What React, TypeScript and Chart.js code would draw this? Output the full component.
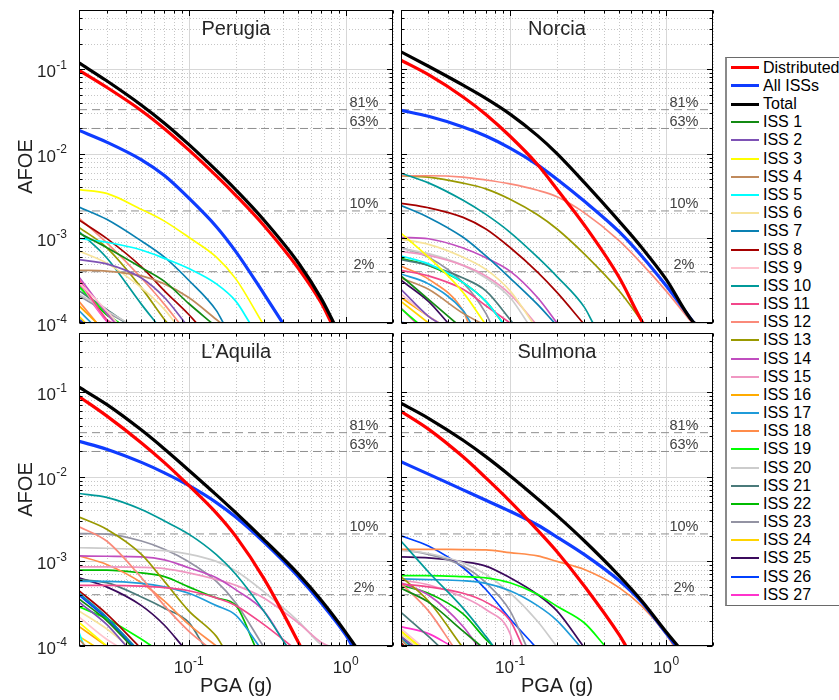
import React, { useEffect, useRef } from 'react';
import { Chart, registerables } from 'chart.js';

Chart.register(...registerables);

// ---------------- data ----------------
const PGA_G = [0.02, 0.03, 0.05, 0.07, 0.1, 0.15, 0.2, 0.3, 0.5, 0.7, 1, 1.5];
const X_RANGE = [0.02, 2];
const Y_RANGE = [1e-4, 0.5];

const SERIES = [
  'Distributed', 'All ISSs', 'Total',
  'ISS 1', 'ISS 2', 'ISS 3', 'ISS 4', 'ISS 5', 'ISS 6', 'ISS 7', 'ISS 8', 'ISS 9',
  'ISS 10', 'ISS 11', 'ISS 12', 'ISS 13', 'ISS 14', 'ISS 15', 'ISS 16', 'ISS 17',
  'ISS 18', 'ISS 19', 'ISS 20', 'ISS 21', 'ISS 22', 'ISS 23', 'ISS 24', 'ISS 25',
  'ISS 26', 'ISS 27',
];

const COLORS = [
  '#ff0000', '#0f3cff', '#000000',
  '#138a13', '#7e52b5', '#ffff00', '#c08a5c', '#00ffff', '#f7e39a', '#0a80b2',
  '#a50000', '#ffc3ce', '#009999', '#f2478a', '#fa8a7a', '#999900', '#c04dbf',
  '#f097c2', '#ffab00', '#1f9bd9', '#ff8c4a', '#00ff00', '#cccccc', '#4a7a7a',
  '#00bb00', '#9393a3', '#ffd400', '#3b0a5c', '#0040ff', '#ff33cc',
];

const PROB_LABELS = ['81%', '63%', '10%', '2%'];
const PROB_AFOE = [0.0332, 0.0199, 0.00211, 0.000404];

const PANEL_TITLES = ['Perugia', 'Norcia', 'L\u2019Aquila', 'Sulmona'];

// AFOE values on the PGA_G grid (while the curve is inside the plot), and PGA where it reaches 1e-4
const PERUGIA_AFOE = [
  [0.097, 0.0611, 0.0323, 0.0198, 0.0111, 0.00547, 0.00321, 0.00143, 4.4e-4, 1.71e-4],
  [0.0189, 0.01374, 0.00848, 0.00553, 0.003, 0.001375, 6.93e-4, 2.24e-4],
  [0.1186, 0.0729, 0.0375, 0.023, 0.0129, 0.00635, 0.00373, 0.00166, 5.12e-4, 1.93e-4],
  [0.00116, 7.8e-4, 4.5e-4, 3.1e-4, 1.7e-4],
  [5.6e-4, 5.0e-4, 3.4e-4, 2.0e-4],
  [0.00377, 0.0034, 0.0022, 0.0016, 0.00103, 6.0e-4, 3.3e-4],
  [4.2e-4, 4.1e-4, 3.6e-4, 2.9e-4, 2.0e-4, 1.1e-4],
  [1.0e-3, 9.0e-4, 7.3e-4, 5.8e-4, 4.4e-4, 2.9e-4, 1.8e-4],
  [7.1e-4, 5.1e-4, 2.6e-4, 1.45e-4],
  [0.00235, 0.00168, 9.3e-4, 6.0e-4, 3.2e-4, 1.4e-4],
  [0.00165, 0.001, 4.6e-4, 2.4e-4, 1.26e-4],
  [3.0e-4, 1.4e-4],
  [0.0012, 5.9e-4, 1.66e-4],
  [3.3e-4, 1.1e-4],
  [0.00174, 8.9e-4, 3.4e-4, 1.66e-4],
  [0.00135, 7.8e-4, 2.6e-4, 1.1e-4],
  [3.5e-4, 1.3e-4],
  [3.1e-4, 1.1e-4],
  [1.6e-4],
  [1.4e-4],
  [1.8e-4],
  [2.7e-4, 1.3e-4],
  [2.2e-4, 1.4e-4],
  [2.4e-4, 1.45e-4],
  [2.7e-4, 1.25e-4],
  [2.1e-4, 1.35e-4],
  [1.2e-4],
  [1.05e-4],
  [1.1e-4],
  [2.9e-4, 1.05e-4],
];
const PERUGIA_END = [0.81, 0.397, 0.84, 0.14, 0.095, 0.295, 0.16, 0.245, 0.082, 0.166, 0.112, 0.035, 0.062, 0.032, 0.087, 0.073, 0.034, 0.033, 0.026, 0.024, 0.026, 0.036, 0.041, 0.04, 0.036, 0.04, 0.022, 0.021, 0.022, 0.031];

const NORCIA_AFOE = [
  [0.1276, 0.0859, 0.0469, 0.0291, 0.0161, 0.00746, 0.0038, 0.00143, 3.47e-4, 1.05e-4],
  [0.0326, 0.0277, 0.0207, 0.0162, 0.01166, 0.0074, 0.005, 0.00274, 0.0012, 6.16e-4, 2.77e-4],
  [0.1603, 0.1081, 0.0646, 0.0452, 0.02944, 0.01637, 0.01005, 0.00456, 0.0016, 7.76e-4, 3.3e-4, 1.02e-4],
  [3.6e-4, 1.9e-4],
  [2.5e-4, 1.2e-4],
  [1.15e-3, 6.0e-4, 2.3e-4],
  [3.4e-4, 2.5e-4, 1.3e-4],
  [6.2e-4, 5.0e-4, 3.0e-4, 1.8e-4],
  [9.8e-4, 8.5e-4, 6.0e-4, 4.3e-4, 2.4e-4],
  [0.00245, 0.00177, 0.00103, 6.2e-4, 3.4e-4, 1.66e-4],
  [0.0026, 0.0023, 0.00177, 0.00129, 7.8e-4, 4.0e-4, 2.3e-4],
  [2.2e-4, 1.2e-4],
  [0.00589, 0.00453, 0.00282, 0.00192, 0.00118, 6.0e-4, 3.54e-4, 1.53e-4],
  [4.2e-4, 3.6e-4, 2.5e-4, 1.6e-4],
  [0.0055, 0.0055, 0.0053, 0.0049, 0.0044, 0.0037, 0.0031, 0.002, 9.4e-4, 5.0e-4, 2.4e-4],
  [0.0055, 0.0053, 0.0045, 0.00385, 0.0029, 0.0019, 0.00129, 6.5e-4, 2.4e-4, 1.05e-4],
  [1.03e-3, 9.9e-4, 7.7e-4, 5.9e-4, 4.1e-4, 2.0e-4],
  [7.0e-4, 6.3e-4, 4.8e-4, 3.6e-4, 2.2e-4],
  [2.0e-4, 1.2e-4],
  [3.8e-4, 2.9e-4, 1.4e-4],
  [4.7e-4, 3.3e-4, 1.4e-4],
  [1.48e-4],
  [7.6e-4, 6.6e-4, 4.8e-4, 3.4e-4, 2.0e-4],
  [5.6e-4, 4.8e-4, 3.4e-4, 2.4e-4, 1.1e-4],
  [5.8e-4, 4.8e-4, 3.0e-4, 1.8e-4],
  [7.8e-4, 6.0e-4, 3.0e-4, 1.3e-4],
  [1.8e-4],
  [3.2e-4, 1.8e-4],
  [1.02e-4],
  [1.5e-4],
];
const NORCIA_END = [0.712, 1.51, 1.53, 0.045, 0.035, 0.0687, 0.065, 0.09, 0.14, 0.193, 0.294, 0.035, 0.34, 0.10, 1.47, 0.714, 0.2, 0.145, 0.035, 0.056, 0.054, 0.0256, 0.13, 0.104, 0.09, 0.075, 0.03, 0.04, 0.021, 0.025];

const LAQUILA_AFOE = [
  [0.0887, 0.0524, 0.0251, 0.0147, 0.00789, 0.00372, 0.00196, 6.33e-4, 1.1e-4],
  [0.0262, 0.0212, 0.0148, 0.01113, 0.00789, 0.00495, 0.00332, 0.0017, 6.57e-4, 3.2e-4, 1.35e-4],
  [0.1145, 0.0716, 0.0356, 0.0213, 0.01196, 0.00611, 0.00374, 0.00182, 7.07e-4, 3.44e-4, 1.45e-4],
  [3.6e-4, 2.0e-4],
  [3.3e-4, 1.8e-4],
  [1.9e-4],
  [1.2e-4],
  [1.45e-4],
  [2.6e-4, 1.6e-4],
  [4.2e-4, 2.2e-4],
  [4.5e-4, 2.4e-4],
  [2.2e-4, 1.2e-4],
  [0.00634, 0.0057, 0.0041, 0.003, 0.0021, 0.0012, 7.0e-4, 2.6e-4],
  [5.2e-4, 5.2e-4, 5.1e-4, 4.9e-4, 4.5e-4, 3.7e-4, 3.0e-4, 1.8e-4],
  [0.00257, 0.00174, 6.4e-4, 3.0e-4, 1.5e-4],
  [0.00335, 0.0024, 0.00121, 5.8e-4, 2.6e-4, 1.3e-4],
  [1.16e-3, 1.15e-3, 1.13e-3, 1.04e-3, 8.4e-4, 6.4e-4, 4.6e-4, 2.6e-4],
  [8.6e-4, 8.6e-4, 8.5e-4, 8.2e-4, 7.3e-4, 6.1e-4, 5.2e-4, 3.7e-4, 1.87e-4, 1.1e-4],
  [1.7e-4],
  [5.8e-4, 5.8e-4, 5.5e-4, 5.0e-4, 4.2e-4, 3.0e-4, 2.3e-4],
  [0.00116, 9.2e-4, 5.6e-4, 3.4e-4, 1.8e-4],
  [2.9e-4, 2.1e-4, 1.2e-4],
  [1.45e-3, 1.43e-3, 1.38e-3, 1.34e-3, 1.22e-3, 1.0e-3, 7.7e-4, 4.4e-4, 1.96e-4, 1.03e-4],
  [6.1e-4, 5.6e-4, 3.8e-4, 2.8e-4, 1.9e-4],
  [7.9e-4, 7.9e-4, 7.3e-4, 6.6e-4, 5.0e-4, 3.7e-4, 3.0e-4],
  [0.00213, 0.0021, 0.00174, 0.00139, 9.9e-4, 5.8e-4, 3.2e-4],
  [1.3e-4],
  [6.4e-4, 5.0e-4, 3.0e-4, 1.76e-4],
  [4.0e-4, 2.1e-4],
  [1.05e-4],
];
const LAQUILA_END = [0.513, 1.1, 1.15, 0.043, 0.04, 0.03, 0.022, 0.0215, 0.041, 0.045, 0.048, 0.035, 0.42, 0.45, 0.13, 0.164, 0.42, 0.78, 0.03, 0.28, 0.15, 0.058, 0.72, 0.125, 0.264, 0.298, 0.025, 0.091, 0.044, 0.0205];

const SULMONA_AFOE = [
  [0.0594, 0.0366, 0.0172, 0.0097, 0.00513, 0.00234, 0.0013, 5.08e-4, 1.36e-4],
  [0.01503, 0.01074, 0.007, 0.00528, 0.00391, 0.00269, 0.00194, 0.0012, 5.93e-4, 3.28e-4, 1.42e-4],
  [0.074, 0.0491, 0.027, 0.0173, 0.0103, 0.0055, 0.00347, 0.00174, 6.76e-4, 3.4e-4, 1.47e-4],
  [4.8e-4, 3.3e-4, 1.5e-4],
  [1.3e-4],
  [1.5e-4],
  [1.2e-4],
  [1.2e-4],
  [1.4e-4],
  [1.25e-4],
  [1.1e-4],
  [1.6e-4],
  [0.00174, 7.5e-4, 2.8e-4, 1.3e-4],
  [5.4e-4, 5.0e-4, 4.2e-4, 3.3e-4, 2.0e-4],
  [5.5e-4, 2.6e-4],
  [6.6e-4, 3.4e-4],
  [5.6e-4, 4.0e-4, 1.7e-4],
  [6.0e-4, 5.3e-4, 3.8e-4, 2.7e-4, 1.4e-4],
  [1.3e-4],
  [6.2e-4, 6.1e-4, 5.9e-4, 5.5e-4, 4.5e-4, 3.0e-4, 2.0e-4],
  [0.00139, 0.00139, 0.00138, 0.00137, 0.00127, 0.00116, 0.001, 8.0e-4, 4.9e-4, 2.95e-4, 1.38e-4],
  [6.8e-4, 6.8e-4, 6.6e-4, 6.4e-4, 5.6e-4, 4.1e-4, 2.95e-4, 1.87e-4],
  [0.00135, 0.00124, 9.6e-4, 7.0e-4, 4.25e-4, 1.96e-4],
  [2.5e-4, 1.3e-4],
  [5.2e-4, 4.2e-4, 2.4e-4, 1.2e-4],
  [0.00139, 0.00121, 8.8e-4, 5.6e-4, 2.6e-4],
  [1.5e-4],
  [0.00113, 0.0011, 9.9e-4, 8.8e-4, 6.4e-4, 4.06e-4, 2.6e-4],
  [0.002, 0.00152, 8.4e-4, 4.65e-4, 2.1e-4],
  [1.7e-4, 1.4e-4],
];
const SULMONA_END = [0.553, 1.16, 1.19, 0.065, 0.024, 0.026, 0.022, 0.022, 0.025, 0.023, 0.021, 0.027, 0.078, 0.12, 0.043, 0.049, 0.062, 0.105, 0.023, 0.28, 1.12, 0.406, 0.198, 0.035, 0.078, 0.127, 0.026, 0.294, 0.144, 0.042];

// ---------------- rendering ----------------
const FONT = '"Liberation Sans", Arial, Helvetica, sans-serif';
const TEXT = '#1f1f1f';

function buildDatasets(rows: number[][], ends: number[]) {
  const ds: any[] = rows.map((row, i) => {
    const pts: { x: number; y: number }[] = [];
    row.forEach((v, j) => {
      if (PGA_G[j] < ends[i]) pts.push({ x: PGA_G[j], y: v });
    });
    pts.push({ x: ends[i], y: Y_RANGE[0] });
    const thick = i < 3;
    return {
      label: SERIES[i],
      data: pts,
      borderColor: COLORS[i],
      backgroundColor: COLORS[i],
      borderWidth: thick ? 3.2 : 1.7,
      pointRadius: 0,
      fill: false,
      cubicInterpolationMode: 'monotone',
      order: i === 2 ? 0 : i === 0 ? 1 : i === 1 ? 2 : 3 + i,
    };
  });
  PROB_AFOE.forEach((r, k) => {
    ds.push({
      label: PROB_LABELS[k],
      data: [{ x: X_RANGE[0], y: r }, { x: X_RANGE[1], y: r }],
      borderColor: '#8f8f8f',
      borderWidth: 1,
      borderDash: [8, 5],
      pointRadius: 0,
      fill: false,
      order: 1000,
    });
  });
  return ds;
}

function logTicks(min: number, max: number) {
  const out: { v: number; major: boolean; e: number }[] = [];
  const e0 = Math.floor(Math.log10(min));
  const e1 = Math.ceil(Math.log10(max));
  for (let e = e0; e <= e1; e++) {
    for (let m = 1; m <= 9; m++) {
      const v = m * Math.pow(10, e);
      if (v >= min * (1 - 1e-9) && v <= max * (1 + 1e-9)) out.push({ v, major: m === 1, e });
    }
  }
  return out;
}

function drawPow(ctx: CanvasRenderingContext2D, exp: number, x: number, yBase: number, align: string) {
  const base = '10';
  const sup = String(exp);
  ctx.font = `17px ${FONT}`;
  const wb = ctx.measureText(base).width;
  ctx.font = `12px ${FONT}`;
  const ws = ctx.measureText(sup).width;
  const total = wb + 0.5 + ws;
  const x0 = align === 'right' ? x - total : x - total / 2;
  ctx.textAlign = 'left';
  ctx.textBaseline = 'alphabetic';
  ctx.font = `17px ${FONT}`;
  ctx.fillText(base, x0, yBase);
  ctx.font = `12px ${FONT}`;
  ctx.fillText(sup, x0 + wb + 0.5, yBase - 8.5);
}

const matlabAxes = {
  id: 'matlabAxes',
  beforeDatasetsDraw(chart: any) {
    const { ctx, chartArea: a } = chart;
    const xs = chart.scales.x;
    const ys = chart.scales.y;
    const xt = logTicks(xs.min, xs.max);
    const yt = logTicks(ys.min, ys.max);
    ctx.save();
    ctx.lineWidth = 1;
    ctx.setLineDash([1, 2]);
    ctx.strokeStyle = '#c6c6c6';
    ctx.beginPath();
    xt.filter((t) => !t.major).forEach((t) => {
      const px = Math.round(xs.getPixelForValue(t.v)) + 0.5;
      ctx.moveTo(px, a.top);
      ctx.lineTo(px, a.bottom);
    });
    yt.filter((t) => !t.major).forEach((t) => {
      const py = Math.round(ys.getPixelForValue(t.v)) + 0.5;
      ctx.moveTo(a.left, py);
      ctx.lineTo(a.right, py);
    });
    ctx.stroke();
    ctx.setLineDash([]);
    ctx.strokeStyle = '#d7d7d7';
    ctx.beginPath();
    xt.filter((t) => t.major).forEach((t) => {
      const px = Math.round(xs.getPixelForValue(t.v)) + 0.5;
      ctx.moveTo(px, a.top);
      ctx.lineTo(px, a.bottom);
    });
    yt.filter((t) => t.major).forEach((t) => {
      const py = Math.round(ys.getPixelForValue(t.v)) + 0.5;
      ctx.moveTo(a.left, py);
      ctx.lineTo(a.right, py);
    });
    ctx.stroke();
    ctx.restore();
  },
  afterDatasetsDraw(chart: any, _args: any, opts: any) {
    const { ctx, chartArea: a } = chart;
    const xs = chart.scales.x;
    const ys = chart.scales.y;
    const xt = logTicks(xs.min, xs.max);
    const yt = logTicks(ys.min, ys.max);
    ctx.save();
    ctx.strokeStyle = '#000';
    ctx.lineWidth = 1;
    ctx.setLineDash([]);
    const L = Math.round(a.left) + 0.5;
    const R = Math.round(a.right) - 0.5;
    const T = Math.round(a.top) + 0.5;
    const B = Math.round(a.bottom) - 0.5;
    ctx.strokeRect(L, T, R - L, B - T);
    ctx.beginPath();
    xt.forEach((t) => {
      const px = Math.round(xs.getPixelForValue(t.v)) + 0.5;
      const len = t.major ? 5.5 : 3;
      ctx.moveTo(px, B);
      ctx.lineTo(px, B - len);
      ctx.moveTo(px, T);
      ctx.lineTo(px, T + len);
    });
    yt.forEach((t) => {
      const py = Math.round(ys.getPixelForValue(t.v)) + 0.5;
      const len = t.major ? 5.5 : 3;
      ctx.moveTo(L, py);
      ctx.lineTo(L + len, py);
      ctx.moveTo(R, py);
      ctx.lineTo(R - len, py);
    });
    ctx.stroke();

    ctx.fillStyle = TEXT;
    if (opts.showY) {
      yt.filter((t) => t.major).forEach((t) => {
        const py = ys.getPixelForValue(t.v);
        drawPow(ctx, t.e, a.left - 12, py + 8, 'right');
      });
      ctx.save();
      ctx.font = `20px ${FONT}`;
      ctx.textAlign = 'center';
      ctx.textBaseline = 'alphabetic';
      ctx.translate(31.7, (a.top + a.bottom) / 2);
      ctx.rotate(-Math.PI / 2);
      ctx.fillText('AFOE', 0, 0);
      ctx.restore();
    }
    if (opts.showX) {
      xt.filter((t) => t.major).forEach((t) => {
        const px = xs.getPixelForValue(t.v);
        drawPow(ctx, t.e, px, a.bottom + 27, 'center');
      });
      ctx.font = `20px ${FONT}`;
      ctx.textAlign = 'center';
      ctx.textBaseline = 'alphabetic';
      ctx.fillText('PGA (g)', (a.left + a.right) / 2, a.bottom + 45.5);
    }
    ctx.fillStyle = '#262626';
    ctx.font = `20px ${FONT}`;
    ctx.textAlign = 'center';
    ctx.textBaseline = 'alphabetic';
    ctx.fillText(opts.title, (a.left + a.right) / 2, a.top + 25);
    ctx.fillStyle = '#404040';
    ctx.font = `14.5px ${FONT}`;
    PROB_AFOE.forEach((r, k) => {
      const py = ys.getPixelForValue(r);
      ctx.fillText(PROB_LABELS[k], a.right - 29, py - 2.5);
    });
    ctx.restore();
  },
};

type PanelProps = {
  left: number; top: number; width: number; height: number;
  padding: { left: number; top: number; right: number; bottom: number };
  rows: number[][]; ends: number[]; title: string; showX: boolean; showY: boolean;
};

function Panel(p: PanelProps) {
  const ref = useRef<HTMLCanvasElement | null>(null);
  useEffect(() => {
    if (!ref.current) return;
    const chart = new Chart(ref.current, {
      type: 'line',
      data: { datasets: buildDatasets(p.rows, p.ends) },
      options: {
        animation: false,
        responsive: false,
        maintainAspectRatio: false,
        devicePixelRatio: 1,
        events: [],
        layout: { padding: p.padding },
        scales: {
          x: { type: 'logarithmic', min: X_RANGE[0], max: X_RANGE[1], display: false },
          y: { type: 'logarithmic', min: Y_RANGE[0], max: Y_RANGE[1], display: false },
        },
        plugins: {
          legend: { display: false },
          tooltip: { enabled: false },
          matlabAxes: { title: p.title, showX: p.showX, showY: p.showY },
        },
      } as any,
      plugins: [matlabAxes as any],
    });
    return () => chart.destroy();
  }, []);
  return (
    <canvas
      ref={ref}
      width={p.width}
      height={p.height}
      style={{ position: 'absolute', left: p.left, top: p.top, width: p.width, height: p.height }}
    />
  );
}

function Legend() {
  const row0 = 67.8;
  const step = 18.17;
  return (
    <>
      <div
        style={{
          position: 'absolute', left: 725, top: 57, width: 140, height: 549,
          border: '1px solid #6a6a6a', borderLeft: '2px solid #8a8a8a',
          boxSizing: 'border-box', background: '#fff',
        }}
      />
      {SERIES.map((s, i) => {
        const cy = row0 + i * step;
        const w = i < 3 ? 3 : 2;
        return (
          <React.Fragment key={s}>
            <div style={{ position: 'absolute', left: 731, top: cy - w / 2, width: 28, height: w, background: COLORS[i] }} />
            <div
              style={{
                position: 'absolute', left: 763, top: cy - 9, height: 18, lineHeight: '18px',
                fontSize: 16, fontFamily: FONT, color: '#000', whiteSpace: 'nowrap',
              }}
            >
              {s}
            </div>
          </React.Fragment>
        );
      })}
    </>
  );
}

export default function App() {
  return (
    <div style={{ position: 'absolute', left: 0, top: 0, width: 839, height: 700, overflow: 'hidden', background: '#fff' }}>
      <Panel left={0} top={0} width={400} height={338}
        padding={{ left: 79, top: 10, right: 7, bottom: 15 }}
        rows={PERUGIA_AFOE} ends={PERUGIA_END} title={PANEL_TITLES[0]} showX={false} showY={true} />
      <Panel left={396} top={0} width={325} height={338}
        padding={{ left: 5, top: 10, right: 8, bottom: 15 }}
        rows={NORCIA_AFOE} ends={NORCIA_END} title={PANEL_TITLES[1]} showX={false} showY={false} />
      <Panel left={0} top={326} width={400} height={374}
        padding={{ left: 79, top: 7, right: 7, bottom: 54 }}
        rows={LAQUILA_AFOE} ends={LAQUILA_END} title={PANEL_TITLES[2]} showX={true} showY={true} />
      <Panel left={396} top={326} width={325} height={374}
        padding={{ left: 5, top: 7, right: 8, bottom: 54 }}
        rows={SULMONA_AFOE} ends={SULMONA_END} title={PANEL_TITLES[3]} showX={true} showY={false} />
      <Legend />
    </div>
  );
}
